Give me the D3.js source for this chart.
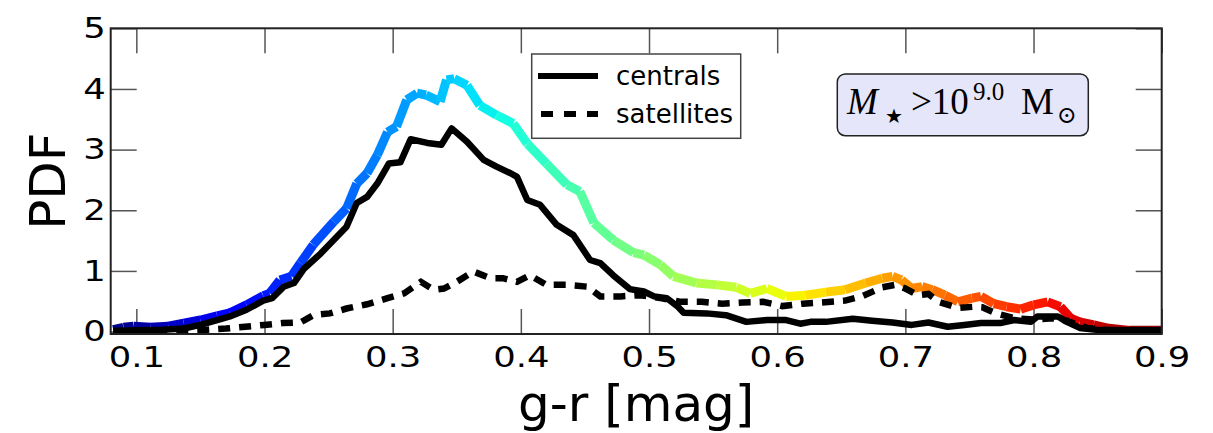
<!DOCTYPE html>
<html>
<head>
<meta charset="utf-8">
<script src="https://cdn.jsdelivr.net/npm/d3@7"></script>
<style>
  body { margin: 0; background: #fff; }
  svg { display: block; }
</style>
</head>
<body>
<div id="chart"></div>
<script>
// ---- data ----
var xAll = [0.082,0.09,0.098,0.111,0.125,0.137,0.15,0.163,0.173,0.186,0.199,0.204,0.212,0.221,0.228,0.238,0.254,0.264,0.272,0.28,0.288,0.296,0.303,0.311,0.319,0.326,0.337,0.342,0.348,0.358,0.368,0.381,0.394,0.405,0.42,0.436,0.446,0.457,0.472,0.488,0.496,0.509,0.519,0.537,0.553,0.568,0.579,0.592,0.607,0.622,0.638,0.653,0.669,0.682,0.69,0.697,0.705,0.713,0.721,0.731,0.741,0.752,0.759,0.769,0.779,0.79,0.8,0.811,0.821,0.829,0.836,0.847,0.857,0.875,0.9];
var yAll = [0.03,0.07,0.09,0.07,0.09,0.14,0.19,0.26,0.31,0.44,0.59,0.63,0.85,0.91,1.13,1.43,1.81,2.03,2.44,2.61,2.91,3.29,3.38,3.82,3.93,3.90,3.79,4.15,4.17,4.06,3.73,3.57,3.43,3.10,2.77,2.42,2.31,1.79,1.51,1.30,1.26,1.10,0.91,0.80,0.77,0.73,0.63,0.71,0.58,0.60,0.65,0.69,0.80,0.88,0.91,0.85,0.71,0.74,0.69,0.60,0.49,0.55,0.58,0.46,0.41,0.37,0.44,0.49,0.41,0.22,0.16,0.11,0.06,0.02,0.02];

var xCen = [0.082,0.1,0.12,0.137,0.15,0.163,0.173,0.186,0.199,0.206,0.215,0.223,0.231,0.244,0.254,0.264,0.272,0.28,0.288,0.297,0.306,0.314,0.327,0.338,0.346,0.358,0.371,0.381,0.392,0.397,0.405,0.415,0.428,0.441,0.454,0.462,0.472,0.485,0.496,0.504,0.514,0.522,0.527,0.545,0.56,0.576,0.592,0.607,0.618,0.626,0.638,0.659,0.674,0.69,0.705,0.718,0.733,0.746,0.759,0.774,0.785,0.798,0.803,0.819,0.826,0.836,0.849,0.87,0.9];
var yCen = [0.01,0.02,0.03,0.05,0.11,0.19,0.25,0.36,0.51,0.55,0.74,0.80,1.04,1.29,1.51,1.73,2.12,2.22,2.44,2.77,2.79,3.17,3.11,3.08,3.35,3.13,2.83,2.72,2.61,2.55,2.17,2.09,1.76,1.59,1.18,1.13,0.93,0.70,0.66,0.58,0.55,0.42,0.31,0.30,0.27,0.16,0.19,0.19,0.13,0.16,0.16,0.21,0.18,0.15,0.11,0.15,0.08,0.11,0.14,0.14,0.19,0.16,0.25,0.25,0.16,0.06,0.03,0.02,0.02];

var xSat = [0.082,0.13,0.155,0.17,0.185,0.2,0.214,0.228,0.238,0.251,0.264,0.28,0.296,0.309,0.322,0.332,0.34,0.35,0.363,0.376,0.386,0.397,0.407,0.42,0.436,0.452,0.462,0.478,0.493,0.51,0.525,0.541,0.557,0.573,0.589,0.604,0.62,0.635,0.653,0.666,0.682,0.692,0.7,0.71,0.718,0.726,0.741,0.754,0.76,0.771,0.785,0.8,0.815,0.826,0.834,0.842,0.86,0.9];
var ySat = [0.0,0.0,0.03,0.05,0.08,0.11,0.14,0.15,0.27,0.30,0.38,0.45,0.55,0.63,0.82,0.69,0.71,0.82,0.99,0.88,0.88,0.82,0.93,0.77,0.77,0.74,0.58,0.58,0.60,0.55,0.49,0.49,0.46,0.48,0.49,0.42,0.46,0.48,0.51,0.58,0.73,0.77,0.71,0.60,0.62,0.49,0.39,0.41,0.40,0.30,0.22,0.20,0.22,0.18,0.11,0.06,0.02,0.02];

var xTicks = [0.1,0.2,0.3,0.4,0.5,0.6,0.7,0.8,0.9];
var yTicks = [0,1,2,3,4,5];
var legendNames = ["centrals", "satellites"];

// ---- layout ----
var W = 1213, H = 433;
var pLeft = 110.7, pRight = 1161.7, pTop = 28.3, pBottom = 334;

var svg = d3.select("#chart").append("svg")
	.attr("width", W).attr("height", H)
	.style("background", "#fff");

var x = d3.scaleLinear().domain([0.08, 0.9]).range([pLeft, pRight]);
var y = d3.scaleLinear().domain([-0.04, 5]).range([pBottom, pTop]);

// jet colormap, stretched over the x range
var jetR = d3.scaleLinear().domain([0, 0.35, 0.66, 0.89, 1]).range([0, 0, 1, 1, 0.5]).clamp(true);
var jetG = d3.scaleLinear().domain([0, 0.125, 0.375, 0.64, 0.91, 1]).range([0, 0, 1, 1, 0, 0]).clamp(true);
var jetB = d3.scaleLinear().domain([0, 0.11, 0.34, 0.65, 1]).range([0.5, 1, 1, 0, 0]).clamp(true);
var tOf = d3.scaleLinear().domain([0.08, 0.9]).range([0, 1]);
function jet(v) {
	var t = tOf(v);
	return d3.rgb(jetR(t) * 255, jetG(t) * 255, jetB(t) * 255).toString();
}

// ---- ticks (inward, all four sides) ----
var tickFont = "DejaVu Sans, sans-serif";

var gB = svg.append("g").attr("transform", "translate(0," + pBottom + ")")
	.call(d3.axisBottom(x).tickValues(xTicks).tickSize(-25).tickPadding(12).tickFormat(d3.format(".1f")));
var gT = svg.append("g").attr("transform", "translate(0," + pTop + ")")
	.call(d3.axisTop(x).tickValues(xTicks).tickSize(-25).tickFormat(""));
var gL = svg.append("g").attr("transform", "translate(" + pLeft + ",0)")
	.call(d3.axisLeft(y).tickValues(yTicks).tickSize(-26).tickPadding(4).tickFormat(d3.format("d")));
var gR = svg.append("g").attr("transform", "translate(" + pRight + ",0)")
	.call(d3.axisRight(y).tickValues(yTicks).tickSize(-26).tickFormat(""));

[gB, gT, gL, gR].forEach(function (g) {
	g.select(".domain").remove();
	g.selectAll(".tick line").attr("stroke", "#555").attr("stroke-width", 1.5);
	// tick numbers in the picture are a bit wider than plain DejaVu
	g.selectAll(".tick text").attr("fill", "#000")
		.attr("transform", "scale(1.22,1)")
		.style("font-family", tickFont).style("font-size", "29px");
});

// ---- curves ----
var line = d3.line().x(function (d) { return x(d[0]); }).y(function (d) { return y(d[1]); });

// all galaxies, coloured segment by segment
var allPts = d3.zip(xAll, yAll);
var segs = d3.pairs(allPts);
svg.append("g").selectAll("path").data(segs).enter().append("path")
	.attr("d", function (d) { return line(d); })
	.attr("fill", "none")
	.attr("stroke", function (d) { return jet((d[0][0] + d[1][0]) / 2); })
	.attr("stroke-width", 9)
	.attr("stroke-linecap", "butt");

// satellites dashed
svg.append("path").datum(d3.zip(xSat, ySat))
	.attr("d", line)
	.attr("fill", "none").attr("stroke", "#000")
	.attr("stroke-width", 6.5).attr("stroke-dasharray", "12,9");

// centrals solid
svg.append("path").datum(d3.zip(xCen, yCen))
	.attr("d", line)
	.attr("fill", "none").attr("stroke", "#000")
	.attr("stroke-width", 6.5).attr("stroke-linejoin", "round");

// ---- frame ----
svg.append("rect")
	.attr("x", pLeft).attr("y", pTop)
	.attr("width", pRight - pLeft).attr("height", pBottom - pTop)
	.attr("fill", "none").attr("stroke", "#222").attr("stroke-width", 2);

// ---- axis labels ----
svg.append("text")
	.attr("x", (pLeft + pRight) / 2).attr("y", 421)
	.attr("text-anchor", "middle")
	.style("font-family", tickFont).style("font-size", "50px")
	.text("g-r [mag]");

svg.append("text")
	.attr("transform", "translate(65," + ((pTop + pBottom) / 2) + ") rotate(-90)")
	.attr("text-anchor", "middle")
	.style("font-family", tickFont).style("font-size", "50px")
	.text("PDF");

// ---- legend ----
var leg = svg.append("g");
leg.append("rect")
	.attr("x", 531.7).attr("y", 54).attr("width", 209).attr("height", 84.3)
	.attr("fill", "#fff").attr("stroke", "#444").attr("stroke-width", 1.5);
legendNames.forEach(function (name, i) {
	var ly = 76 + i * 38;
	leg.append("line")
		.attr("x1", 538).attr("x2", 598).attr("y1", ly).attr("y2", ly)
		.attr("stroke", "#000").attr("stroke-width", 6)
		.attr("stroke-dasharray", i === 1 ? "12,11" : null)
		.attr("stroke-dashoffset", i === 1 ? -3 : null);
	leg.append("text")
		.attr("x", 616).attr("y", ly + 9)
		.style("font-family", tickFont).style("font-size", "26px")
		.text(name);
});

// ---- mass annotation ----
var ann = svg.append("g");
ann.append("rect")
	.attr("x", 837.3).attr("y", 74).attr("width", 251).attr("height", 61.7)
	.attr("rx", 8).attr("ry", 8)
	.attr("fill", "#e6e6fa").attr("stroke", "#222").attr("stroke-width", 1.5);
var serif = "Liberation Serif, DejaVu Serif, serif";
var t = ann.append("text").attr("y", 114).style("font-family", serif).style("font-size", "37px");
t.append("tspan").attr("x", 847).style("font-style", "italic").text("M");
t.append("tspan").attr("x", 885).attr("dy", 9).style("font-size", "20px").text("\u2605");
t.append("tspan").attr("x", 911).attr("dy", -9).text(">10");
t.append("tspan").attr("x", 973).attr("dy", -14).style("font-size", "25px").text("9.0");
t.append("tspan").attr("x", 1021).attr("dy", 14).text("M");
t.append("tspan").attr("x", 1057).attr("dy", 9).style("font-size", "24px").text("\u2299");
</script>
</body>
</html>
